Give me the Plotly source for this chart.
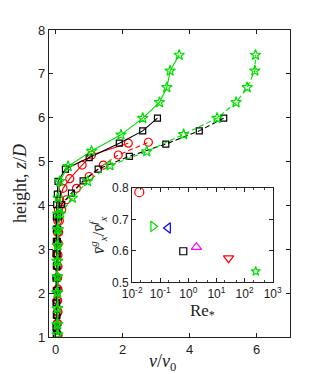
import plotly.graph_objects as go

# ---- main plot data: velocity profiles v/v0 vs height z/D ----
green_solid_z = [1.05, 1.29, 1.65, 2.01, 2.37, 2.73, 3.09, 3.45, 3.81, 4.17, 4.55, 4.89, 5.24, 5.61, 5.99, 6.35, 6.69, 7.07, 7.43]
green_solid_v = [0.05, 0.04, 0.05, 0.04, 0.05, 0.04, 0.05, 0.05, 0.06, 0.07, 0.12, 0.37, 1.07, 1.95, 2.6, 3.1, 3.32, 3.42, 3.69]

green_dash_z = [1.05, 1.29, 1.65, 2.01, 2.37, 2.73, 3.09, 3.45, 3.81, 4.17, 4.55, 4.91, 5.23, 5.62, 5.99, 6.35, 6.69, 7.07, 7.43]
green_dash_v = [0.06, 0.06, 0.05, 0.06, 0.05, 0.06, 0.07, 0.08, 0.15, 0.5, 0.95, 1.62, 2.72, 3.82, 4.82, 5.39, 5.72, 5.95, 5.97]

black_solid_z = [1.06, 1.22, 1.50, 1.78, 2.06, 2.34, 2.62, 2.90, 3.18, 3.46, 3.74, 4.02, 4.26, 4.55, 4.83, 5.09, 5.42, 5.70, 5.99]
black_solid_v = [0.02, 0.01, 0.02, 0.01, 0.02, 0.01, 0.02, 0.01, 0.02, 0.02, 0.02, 0.03, 0.05, 0.07, 0.29, 1.0, 1.9, 2.6, 3.04]

black_dash_z = [1.06, 1.22, 1.50, 1.78, 2.06, 2.34, 2.62, 2.90, 3.18, 3.46, 3.74, 4.02, 4.28, 4.56, 4.83, 5.12, 5.40, 5.70, 5.99]
black_dash_v = [0.04, 0.03, 0.04, 0.03, 0.04, 0.03, 0.04, 0.04, 0.05, 0.06, 0.08, 0.18, 0.47, 0.82, 1.27, 2.2, 3.29, 4.29, 5.02]

red_solid_z = [1.05, 1.31, 1.57, 1.83, 2.09, 2.35, 2.61, 2.87, 3.13, 3.39, 3.65, 3.91, 4.13, 4.39, 4.61, 4.92, 5.15, 5.42]
red_solid_v = [0.05, 0.04, 0.05, 0.04, 0.05, 0.04, 0.05, 0.04, 0.05, 0.05, 0.06, 0.08, 0.12, 0.22, 0.42, 0.79, 1.07, 2.17]

red_dash_z = [1.05, 1.31, 1.57, 1.83, 2.09, 2.35, 2.61, 2.87, 3.13, 3.39, 3.65, 3.91, 4.13, 4.39, 4.66, 4.92, 5.15, 5.44]
red_dash_v = [0.07, 0.06, 0.07, 0.06, 0.07, 0.06, 0.07, 0.07, 0.08, 0.09, 0.11, 0.18, 0.32, 0.62, 1.0, 1.42, 1.87, 2.77]

# ---- inset data: velocity ratio vs Re* ----
inset_re = [0.018, 0.056, 0.19, 0.66, 1.94, 27.0, 250.0]
inset_ratio = [0.787, 0.678, 0.673, 0.599, 0.612, 0.577, 0.535]
inset_colors = ["#ff0000", "#00dd00", "#0000ff", "#000000", "#ff00ff", "#ff0000", "#00dd00"]
inset_symbols = ["circle-open", "triangle-right-open", "triangle-left-open", "square-open",
                 "triangle-up-open", "triangle-down-open", "star-open"]

main_xticks = [0, 2, 4, 6]
main_yticks = [1, 2, 3, 4, 5, 6, 7, 8]
inset_yticks = [0.5, 0.6, 0.7, 0.8]
inset_xtick_vals = [0.01, 0.1, 1, 10, 100, 1000]
inset_xtick_text = ["10<sup>-2</sup>", "10<sup>-1</sup>", "10<sup>0</sup>", "10<sup>1</sup>", "10<sup>2</sup>", "10<sup>3</sup>"]

GREEN = "#00dd00"
fig = go.Figure()

def prof(v, z, color, dash, symbol, size):
    fig.add_trace(go.Scatter(
        x=v, y=z, mode="lines+markers", xaxis="x", yaxis="y",
        line=dict(color=color, width=1.1, dash=dash),
        marker=dict(symbol=symbol, size=size, color=color, line=dict(width=1.2, color=color)),
        showlegend=False))

DASH = "5px,3px"
prof(red_solid_v, red_solid_z, "#ff0000", "solid", "circle-open", 8)
prof(red_dash_v, red_dash_z, "#ff0000", DASH, "circle-open", 8)
prof(black_solid_v, black_solid_z, "#000000", "solid", "square-open", 6)
prof(black_dash_v, black_dash_z, "#000000", DASH, "square-open", 6)
prof(green_solid_v, green_solid_z, GREEN, "solid", "star-open", 8)
prof(green_dash_v, green_dash_z, GREEN, DASH, "star-open", 8)

for r, q, c, s in zip(inset_re, inset_ratio, inset_colors, inset_symbols):
    sz = {"star-open": 7, "square-open": 7}.get(s, 9)
    fig.add_trace(go.Scatter(
        x=[r], y=[q], mode="markers", xaxis="x2", yaxis="y2",
        marker=dict(symbol=s, size=sz, color=c, line=dict(width=1.2, color=c)),
        showlegend=False))

serif = "Liberation Serif"
sans = "Liberation Sans"
ax_common = dict(showline=True, linecolor="#222", linewidth=1.2, mirror="ticks",
                 ticks="inside", ticklen=4, tickcolor="#222", showgrid=False, zeroline=False)

fig.update_layout(
    width=311, height=374,
    margin=dict(l=41, r=29, t=22, b=45),
    paper_bgcolor="white", plot_bgcolor="white",
    xaxis=dict(domain=[0, 1], range=[-0.2, 7], tickvals=main_xticks,
               tickfont=dict(family=sans, size=13, color="#222"),
               **ax_common),
    yaxis=dict(domain=[0, 1], range=[1, 8], tickvals=main_yticks,
               tickfont=dict(family=sans, size=13, color="#222"),
               title=dict(text="height, <i>z</i>/<i>D</i>", font=dict(family=serif, size=18, color="#222"), standoff=6),
               **ax_common),
    xaxis2=dict(domain=[0.345, 0.928], anchor="y2", type="log", range=[-2, 3],
                tickvals=inset_xtick_vals, ticktext=inset_xtick_text,
                tickfont=dict(family=sans, size=12, color="#222"),
                minor=dict(ticks="inside", ticklen=2, tickcolor="#444", showgrid=False),
                title=dict(text="Re<sub>*</sub>", font=dict(family=serif, size=17, color="#222"), standoff=2),
                **ax_common),
    yaxis2=dict(domain=[0.178, 0.485], anchor="x2", range=[0.5, 0.8], tickvals=inset_yticks,
                tickformat=".1f",
                tickfont=dict(family=sans, size=12, color="#222"),
                title=dict(text="<i>v̄</i><sup><i>g</i></sup><sub><i>x</i></sub>/<i>v̄</i><sup><i>f</i></sup><sub><i>x</i></sub>",
                           font=dict(family=serif, size=16, color="#222"), standoff=3),
                **ax_common),
    annotations=[dict(text="<i>v</i>/<i>v</i><sub>0</sub>", xref="paper", yref="paper",
                      x=0.47, y=-0.082, xanchor="center", yanchor="middle", showarrow=False,
                      font=dict(family=serif, size=18, color="#222"))],
)

fig.write_html("out.html")
